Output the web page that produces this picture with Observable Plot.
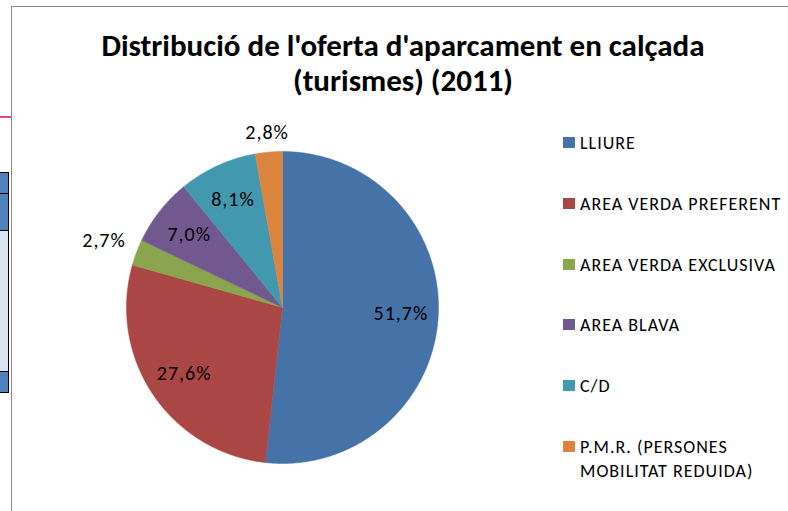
<!DOCTYPE html>
<html>
<head>
<meta charset="utf-8">
<script src="https://cdn.jsdelivr.net/npm/d3@7"></script>
<script src="https://cdn.jsdelivr.net/npm/@observablehq/plot@0.6"></script>
<style>
  html, body { margin: 0; padding: 0; background: #fff; }
  body { width: 788px; height: 511px; position: relative; overflow: hidden; font-family: Carlito, Calibri, Lato, sans-serif; }
  #frame { position: absolute; left: 11px; top: 6px; width: 800px; height: 520px; border-left: 1.5px solid #8a8a8a; border-top: 1.5px solid #8a8a8a; }
  #chart { position: absolute; left: 0; top: 0; }
  .title { position: absolute; left: 0; width: 806px; text-align: center; font-weight: bold; font-size: 31px; color: #000; line-height: 1; }
  .leg { position: absolute; left: 563px; font-size: 18px; letter-spacing: 1px; color: #000; line-height: 24px; }
  .leg .sw { position: absolute; left: 0; top: 6px; width: 12px; height: 11px; }
  .leg .tx { position: absolute; left: 17px; top: 0; white-space: nowrap; }
  .art { position: absolute; }
</style>
</head>
<body>
<div class="art" style="left:0;top:116px;width:11px;height:2px;background:#d9536f;"></div>
<div class="art" style="left:0;top:172px;width:8px;height:20px;background:#4f81bd;border:1px solid #000;border-left:none;"></div>
<div class="art" style="left:0;top:194px;width:8px;height:36px;background:#4f81bd;border:1px solid #000;border-left:none;border-top:none;"></div>
<div class="art" style="left:0;top:231px;width:8px;height:140px;background:#dbe5f1;border-right:1px solid #000;"></div>
<div class="art" style="left:0;top:371px;width:8px;height:20px;background:#4f81bd;border:1px solid #000;border-left:none;"></div>
<div id="frame"></div>
<div id="chart"></div>
<div class="title" style="top:30px;">Distribució de l'oferta d'aparcament en calçada</div>
<div class="title" style="top:65px;">(turismes) (2011)</div>
<div id="legend"></div>
<script>
const categories = ["LLIURE", "AREA VERDA PREFERENT", "AREA VERDA EXCLUSIVA", "AREA BLAVA", "C/D", "P.M.R. (PERSONES MOBILITAT REDUIDA)"];
const legendLabels = ["LLIURE", "AREA VERDA PREFERENT", "AREA VERDA EXCLUSIVA", "AREA BLAVA", "C/D", "P.M.R. (PERSONES<br>MOBILITAT REDUIDA)"];
const values = [51.7, 27.6, 2.7, 7.0, 8.1, 2.8];
const valueLabels = ["51,7%", "27,6%", "2,7%", "7,0%", "8,1%", "2,8%"];
const colors = ["#4572a7", "#aa4643", "#89a54e", "#71588f", "#4198af", "#db843d"];

const R = 156; // pie radius in px
const total = d3.sum(values);
let acc = 0;
const slices = values.map((v, i) => {
  const a0 = acc / total * 2 * Math.PI;
  acc += v;
  const a1 = acc / total * 2 * Math.PI;
  return {name: categories[i], value: v, label: valueLabels[i], a0, a1, mid: (a0 + a1) / 2};
});

const pts = [];
for (const s of slices) {
  pts.push({name: s.name, x: 0, y: 0});
  const n = Math.max(2, Math.ceil((s.a1 - s.a0) / (Math.PI / 360)));
  for (let k = 0; k <= n; k++) {
    const a = s.a0 + (s.a1 - s.a0) * k / n;
    pts.push({name: s.name, x: Math.sin(a), y: Math.cos(a)});
  }
  pts.push({name: s.name, x: 0, y: 0});
}

const labels = slices.map(s => {
  const dx = Math.sin(s.mid), dy = Math.cos(s.mid);
  const inside = s.value > 5;
  let r;
  if (inside) r = 0.76;
  else r = (R + 12 + Math.abs(dx) * 22 + Math.abs(dy) * 6) / R;
  return {label: s.label, x: dx * r, y: dy * r};
});

const chart = Plot.plot({
  width: 788,
  height: 511,
  margin: 0,
  x: {domain: [-1, 1], range: [282 - R, 282 + R], axis: null},
  y: {domain: [-1, 1], range: [307 + R, 307 - R], axis: null},
  color: {domain: categories, range: colors},
  style: {background: "transparent", overflow: "visible"},
  marks: [
    Plot.line(pts, {x: "x", y: "y", z: "name", fill: "name", stroke: "name", strokeWidth: 0.5, curve: "linear"}),
    Plot.text(labels, {x: "x", y: "y", text: "label", fontSize: 20, fill: "#000", fontFamily: "Carlito, Calibri, Lato, sans-serif", style: "letter-spacing:1px"})
  ]
});
chart.querySelectorAll("text").forEach(t => t.style.letterSpacing = "1px");
document.getElementById("chart").appendChild(chart);

const legendTops = [131, 192, 253, 313, 374, 435];
const leg = document.getElementById("legend");
categories.forEach((c, i) => {
  const d = document.createElement("div");
  d.className = "leg";
  d.style.top = legendTops[i] + "px";
  d.innerHTML = `<div class="sw" style="background:${colors[i]}"></div><div class="tx">${legendLabels[i]}</div>`;
  leg.appendChild(d);
});
</script>
</body>
</html>
